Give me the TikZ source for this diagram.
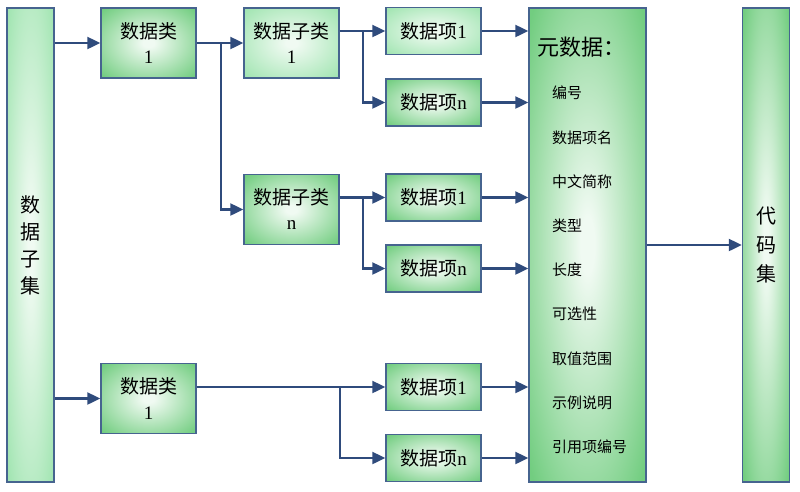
\documentclass[tikz,border=0pt]{standalone}
\usepackage{fontspec}
\setmainfont{Liberation Serif}
\newfontfamily\cjk{Noto Sans CJK SC}
\usetikzlibrary{arrows.meta}
\definecolor{boxline}{HTML}{46648F}
\definecolor{flowline}{HTML}{2F4B7C}
\definecolor{glowdark}{HTML}{72CD80}
\definecolor{glowlight}{HTML}{A2E5B2}
\definecolor{glowcore}{HTML}{F0FAF2}
\pgfdeclareradialshading{darkglow}{\pgfpoint{0bp}{0bp}}{color(0bp)=(glowcore); color(3bp)=(glowcore); color(34bp)=(glowdark); color(70bp)=(glowdark)}
\pgfdeclareradialshading{lightglow}{\pgfpoint{0bp}{0bp}}{color(0bp)=(glowcore); color(3bp)=(glowcore); color(34bp)=(glowlight); color(70bp)=(glowlight)}
\tikzset{
  box/.style={draw=boxline, line width=1.4pt, shading=darkglow, minimum width=95pt,
              minimum height=70pt, inner sep=0pt, align=center,
              font=\fontsize{19}{25}\selectfont},
  lightbox/.style={box, shading=lightglow},
  itembox/.style={box, minimum height=47pt},
  lightitembox/.style={itembox, shading=lightglow},
  bar/.style={box, minimum width=47pt, minimum height=474pt, font=\cjk\fontsize{20}{27}\selectfont},
  metaitem/.style={anchor=west, inner sep=0pt, font=\cjk\fontsize{15}{18}\selectfont},
  arr/.style={-{Triangle[length=13pt,width=12pt]}, line width=2.2pt, draw=flowline},
}

\begin{document}
\begin{tikzpicture}[x=1pt, y=-1pt]
    \useasboundingbox (0,0) rectangle (800,491);
    % left and right bars
    \node[bar, shading=lightglow] (set) at (30.5, 245) {数\\据\\子\\集};
    \node[bar, minimum width=117pt] (meta) at (587.5, 245) {};
    \node[bar, font=\cjk\fontsize{20}{29}\selectfont] (code) at (766, 245) {代\\码\\集};
    % classes and subclasses
    \node[box] (cls1) at (148.5, 43) {{\cjk 数据类}\\1};
    \node[lightbox] (sub1) at (291.5, 43) {{\cjk 数据子类}\\1};
    \node[box] (subn) at (291.5, 209.5) {{\cjk 数据子类}\\n};
    \node[box] (cls2) at (148.5, 398.5) {{\cjk 数据类}\\1};
    % data items
    \node[lightitembox] (item1a) at (433.5, 31) {{\cjk 数据项}1};
    \node[itembox] (itemna) at (433.5, 102.5) {{\cjk 数据项}n};
    \node[itembox] (item1b) at (433.5, 197.5) {{\cjk 数据项}1};
    \node[itembox] (itemnb) at (433.5, 268.5) {{\cjk 数据项}n};
    \node[itembox] (item1c) at (433.5, 387) {{\cjk 数据项}1};
    \node[itembox] (itemnc) at (433.5, 458) {{\cjk 数据项}n};
    % metadata list
    \node[anchor=west, inner sep=0pt, font=\cjk\fontsize{22}{24}\selectfont] (metatitle) at (537, 47) {元数据：};
    \foreach \txt [count=\i] in {编号,数据项名,中文简称,类型,长度,可选性,取值范围,示例说明,引用项编号}
      \node[metaitem] (m\i) at (552, 49+44.2*\i) {\txt};
    % connectors
    \draw[arr] (set.east |- cls1.west) -- (cls1.west);
    \draw[arr] (set.east |- cls2.west) -- (cls2.west);
    \draw[arr] (cls1.east) -- (sub1.west);
    \draw[arr] (cls1.east) -- ++(24,0) |- (subn.west);
    \draw[arr] (sub1.east |- item1a.west) -- (item1a.west);
    \draw[arr] (sub1.east |- item1a.west) -- ++(23.5,0) |- (itemna.west);
    \draw[arr] (subn.east |- item1b.west) -- (item1b.west);
    \draw[arr] (subn.east |- item1b.west) -- ++(23.5,0) |- (itemnb.west);
    \draw[arr] (cls2.east |- item1c.west) -- (item1c.west);
    \draw[arr] (cls2.east |- item1c.west) -- ++(143,0) |- (itemnc.west);
    \foreach \n in {item1a,itemna,item1b,itemnb,item1c,itemnc}
      \draw[arr] (\n.east) -- (\n.east -| meta.west);
    \draw[arr] (meta.east) -- (code.west);
  \end{tikzpicture}
\end{document}
